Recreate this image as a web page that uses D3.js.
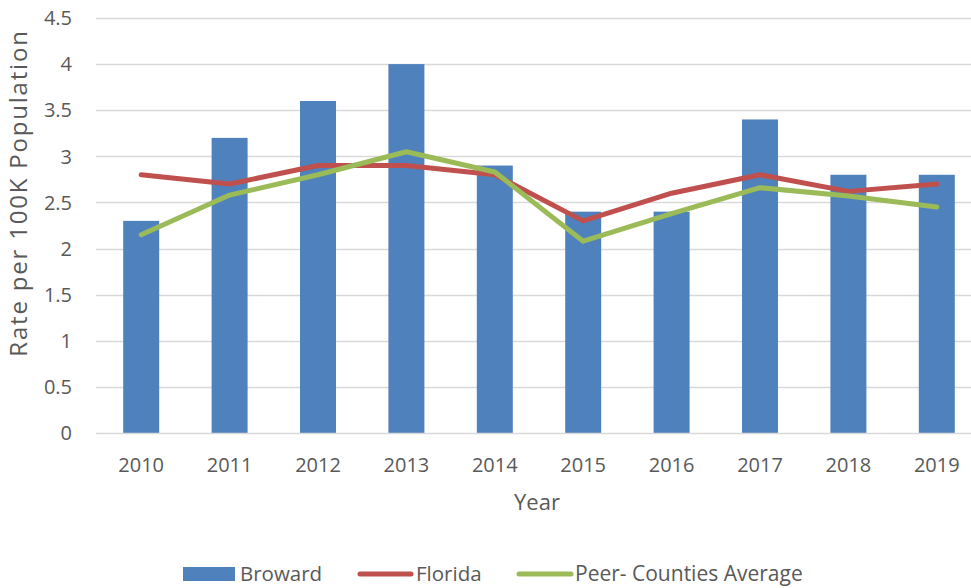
<!DOCTYPE html>
<html>
<head>
<meta charset="utf-8">
<script src="https://cdn.jsdelivr.net/npm/d3@7"></script>
<style>
  body { margin: 0; background: #fff; }
  text { font-family: "Open Sans", "Noto Sans", sans-serif; fill: #595959; }
</style>
</head>
<body>
<div id="chart"></div>
<script>
var years = ["2010", "2011", "2012", "2013", "2014", "2015", "2016", "2017", "2018", "2019"],
    broward = [2.3, 3.2, 3.6, 4.0, 2.9, 2.4, 2.4, 3.4, 2.8, 2.8],
    florida = [2.8, 2.7, 2.9, 2.9, 2.8, 2.3, 2.6, 2.8, 2.62, 2.7],
    peer = [2.15, 2.58, 2.8, 3.05, 2.83, 2.08, 2.38, 2.66, 2.57, 2.45],
    yTicks = [0, 0.5, 1, 1.5, 2, 2.5, 3, 3.5, 4, 4.5];

var width = 971, height = 588;
var margin = { top: 18, right: -10, bottom: 155, left: 97 };

var svg = d3.select("#chart").append("svg")
    .attr("width", width)
    .attr("height", height);

var x = d3.scaleBand()
    .domain(years)
    .range([margin.left, width - margin.right]);

var y = d3.scaleLinear()
    .domain([0, 4.5])
    .range([height - margin.bottom, margin.top]);

// gridlines
svg.append("g")
    .selectAll("line")
    .data(yTicks.slice(1))
    .enter().append("line")
    .attr("x1", margin.left - 1)
    .attr("x2", width)
    .attr("y1", function(d) { return Math.round(y(d)) + 0.5; })
    .attr("y2", function(d) { return Math.round(y(d)) + 0.5; })
    .style("stroke", "#d9d9d9")
    .style("stroke-width", 1.3);

// y tick labels
svg.append("g")
    .selectAll("text")
    .data(yTicks)
    .enter().append("text")
    .attr("x", 72)
    .attr("y", function(d) { return y(d); })
    .attr("dy", "0.36em")
    .attr("text-anchor", "end")
    .style("font-size", "20px")
    .text(function(d) { return d; });

// bars
var barW = 36;
svg.append("g")
    .selectAll("rect")
    .data(broward)
    .enter().append("rect")
    .attr("x", function(d, i) { return x(years[i]) + x.bandwidth() / 2 - barW / 2; })
    .attr("y", function(d) { return y(d); })
    .attr("width", barW)
    .attr("height", function(d) { return y(0) - y(d); })
    .style("fill", "#4f81bd");

// x axis line
svg.append("line")
    .attr("x1", margin.left - 1)
    .attr("x2", width)
    .attr("y1", Math.round(y(0)) + 0.5)
    .attr("y2", Math.round(y(0)) + 0.5)
    .style("stroke", "#d9d9d9")
    .style("stroke-width", 1.3);

// x labels
svg.append("g")
    .selectAll("text")
    .data(years)
    .enter().append("text")
    .attr("x", function(d) { return x(d) + x.bandwidth() / 2; })
    .attr("y", 472)
    .attr("text-anchor", "middle")
    .style("font-size", "20px")
    .text(function(d) { return d; });

var line = d3.line()
    .x(function(d, i) { return x(years[i]) + x.bandwidth() / 2; })
    .y(function(d) { return y(d); });

svg.append("path")
    .datum(florida)
    .attr("d", line)
    .style("fill", "none")
    .style("stroke", "#c0504d")
    .style("stroke-width", 5)
    .style("stroke-linecap", "round")
    .style("stroke-linejoin", "round");

svg.append("path")
    .datum(peer)
    .attr("d", line)
    .style("fill", "none")
    .style("stroke", "#9bbb59")
    .style("stroke-width", 5)
    .style("stroke-linecap", "round")
    .style("stroke-linejoin", "round");

// axis titles
svg.append("text")
    .attr("x", 537)
    .attr("y", 510)
    .attr("text-anchor", "middle")
    .style("font-size", "22px")
    .text("Year");

svg.append("text")
    .attr("transform", "translate(27,193) rotate(-90)")
    .attr("text-anchor", "middle")
    .style("font-size", "24px")
    .style("letter-spacing", "1.8px")
    .text("Rate per 100K Population");

// legend
var legend = svg.append("g");
legend.append("rect")
    .attr("x", 183).attr("y", 567)
    .attr("width", 52).attr("height", 14)
    .style("fill", "#4f81bd");
legend.append("text")
    .attr("x", 240).attr("y", 581)
    .style("font-size", "20.5px")
    .text("Broward");

legend.append("line")
    .attr("x1", 360).attr("x2", 411)
    .attr("y1", 574).attr("y2", 574)
    .style("stroke", "#c0504d").style("stroke-width", 5)
    .style("stroke-linecap", "round");
legend.append("text")
    .attr("x", 416).attr("y", 581)
    .style("font-size", "20.5px")
    .text("Florida");

legend.append("line")
    .attr("x1", 519).attr("x2", 571)
    .attr("y1", 574).attr("y2", 574)
    .style("stroke", "#9bbb59").style("stroke-width", 5)
    .style("stroke-linecap", "round");
legend.append("text")
    .attr("x", 575).attr("y", 581)
    .style("font-size", "21px")
    .text("Peer- Counties Average");
</script>
</body>
</html>
